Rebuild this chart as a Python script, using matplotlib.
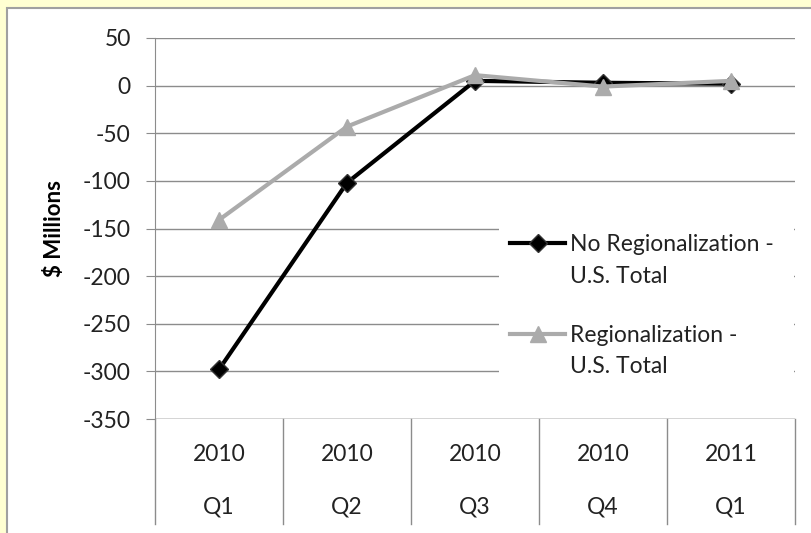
import matplotlib.pyplot as plt
from matplotlib.patches import Rectangle
from matplotlib.lines import Line2D

years = ["2010", "2010", "2010", "2010", "2011"]
quarters = ["Q1", "Q2", "Q3", "Q4", "Q1"]
no_region = [-298, -102, 5, 3, 2]
region = [-141, -43, 11, -1, 5]

plt.rcParams['font.family'] = ['Lato', 'DejaVu Sans']
plt.rcParams['axes.unicode_minus'] = False

fig = plt.figure(figsize=(8.12, 5.33), dpi=100)
fig.patch.set_facecolor('#FFFFD2')

# white panel with grey frame
W, H = 812, 533
fig.patches.append(Rectangle((7 / W, -0.05), 1.1, 1 - 8 / H + 0.05, transform=fig.transFigure,
                             facecolor='white', edgecolor='#A0A0A0', linewidth=1.5, zorder=-5))

ax = fig.add_axes([155 / W, 1 - 419 / H, 640 / W, (419 - 38) / H])
ax.set_zorder(2)
ax.set_facecolor('white')
x = list(range(len(years)))

ax.plot(x, no_region, color='black', lw=3, marker='D', ms=9, mfc='black', mec='#333333',
        label='No Regionalization -\nU.S. Total', zorder=3)
ax.plot(x, region, color='#ABABAB', lw=3, marker='^', ms=12, mfc='#ABABAB', mec='#ABABAB',
        label='Regionalization -\nU.S. Total', zorder=4)

FS = 16.5
ax.set_xlim(-0.5, 4.5)
ax.set_ylim(-350, 50)
ax.set_yticks(range(-350, 51, 50))
ax.yaxis.grid(True, color='#8C8C8C', lw=1)
ax.set_axisbelow(True)
for s in ['top', 'right', 'bottom']:
    ax.spines[s].set_visible(False)
ax.spines['left'].set_color('#8C8C8C')
ax.tick_params(axis='y', length=6.5, color='#8C8C8C', labelsize=FS, labelcolor='#222222', pad=11)
ax.tick_params(axis='x', length=0, labelbottom=False)
ax.set_ylabel('$ Millions', fontsize=16, fontweight='bold', labelpad=13)

# category table below the plot
tr = ax.get_xaxis_transform()
ax.axhline(-350, color='#8C8C8C', lw=1, zorder=2)
for k in range(len(years) + 1):
    ax.add_line(Line2D([k - 0.5, k - 0.5], [0, -0.2756], transform=tr, color='#8C8C8C',
                       lw=1, clip_on=False))
for i in x:
    ax.text(i, -0.094, years[i], transform=tr, ha='center', va='center', fontsize=FS, color='#222222')
    ax.text(i, -0.23, quarters[i], transform=tr, ha='center', va='center', fontsize=FS, color='#222222')

leg = ax.legend(loc='upper left', bbox_to_anchor=(0.537, 0.415, 0.462, 0.1), mode='expand',
                borderaxespad=0, frameon=True, fontsize=FS,
                labelspacing=1.66, handlelength=2.4, handletextpad=0.22, borderpad=0.5)
leg.get_frame().set_facecolor('white')
leg.get_frame().set_edgecolor('none')
leg.get_frame().set_alpha(1)
for t in leg.get_texts():
    t.set_linespacing(1.61)
    t.set_color('#222222')
# put legend samples level with the first line of each label
for h in leg.legend_handles:
    h.set_ydata([y + 12.6 for y in h.get_ydata()])

fig.savefig('out.png', dpi=100, facecolor=fig.get_facecolor())
